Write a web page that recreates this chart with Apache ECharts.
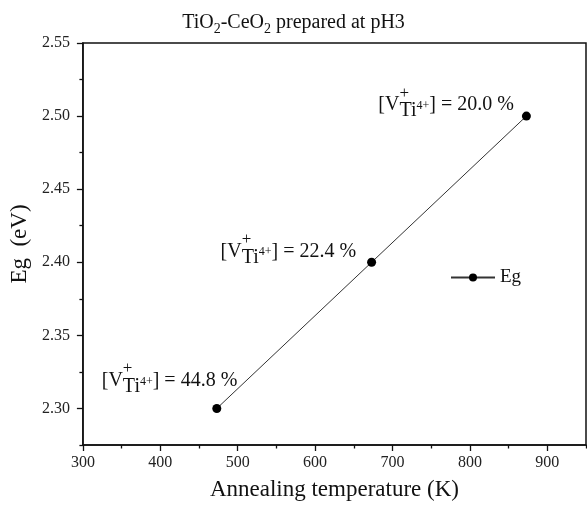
<!DOCTYPE html>
<html>
<head>
<meta charset="utf-8">
<script src="https://cdn.jsdelivr.net/npm/echarts@6/dist/echarts.min.js"></script>
<style>
html, body { margin: 0; padding: 0; background: #fff; }
#chart { width: 587px; height: 506px; }
</style>
</head>
<body>
<div id="chart"></div>
<script>
// 数据
var temps = [473, 673, 873];          // 退火温度 (K)
var eg = [2.30, 2.40, 2.50];          // 带隙 Eg (eV)
var vacancy = ['44.8', '22.4', '20.0']; // [V+ Ti4+] 百分比
var xMajor = [300, 400, 500, 600, 700, 800, 900];
var xMinor = [350, 450, 550, 650, 750, 850, 950];
var yMajor = [2.30, 2.35, 2.40, 2.45, 2.50, 2.55];
var yMinor = [2.275, 2.325, 2.375, 2.425, 2.475, 2.525];

var labelOffsets = [[25, -28], [-11, -11], [-8, -11]]; // 标注位置
var serif = 'Liberation Serif';

var myChart = echarts.init(document.getElementById('chart'));

var points = [];
for (var i = 0; i < temps.length; i++) {
    points.push({
        value: [temps[i], eg[i]],
        label: { offset: labelOffsets[i] }
    });
}

function baseAxis(min, max, major, minor, isMinor) {
    return {
        type: 'value',
        min: min,
        max: max,
        axisLine: { show: !isMinor, lineStyle: { color: '#111', width: 1.5 } },
        axisTick: {
            show: true,
            customValues: isMinor ? minor : major,
            length: isMinor ? 3.5 : 6,
            lineStyle: { color: '#111', width: 1.3 }
        },
        axisLabel: {
            show: !isMinor,
            customValues: major,
            fontFamily: serif,
            fontSize: 16,
            color: '#222'
        },
        splitLine: { show: false }
    };
}

var x0 = baseAxis(300, 950, xMajor, xMinor, false);
x0.position = 'bottom';
x0.axisLabel.margin = 10;
x0.name = 'Annealing temperature (K)';
x0.nameLocation = 'middle';
x0.nameGap = 33;
x0.nameTextStyle = { fontFamily: serif, fontSize: 23, color: '#111' };
var x1 = baseAxis(300, 950, xMajor, xMinor, true);
x1.position = 'bottom';

var y0 = baseAxis(2.275, 2.55, yMajor, yMinor, false);
y0.position = 'left';
y0.axisLabel.margin = 13;
y0.axisLabel.formatter = function (v) { return v.toFixed(2); };
y0.name = 'Eg  (eV)';
y0.nameLocation = 'middle';
y0.nameGap = 51;
y0.nameTextStyle = { fontFamily: serif, fontSize: 23, color: '#111' };
var y1 = baseAxis(2.275, 2.55, yMajor, yMinor, true);
y1.position = 'left';

myChart.setOption({
    backgroundColor: '#fff',
    animation: false,
    title: {
        text: '{t|TiO}{s|2}{t|-CeO}{s|2}{t| prepared at pH3}',
        left: 'center',
        top: 5,
        textStyle: {
            fontWeight: 'normal',
            rich: {
                t: { fontFamily: serif, fontSize: 20, fontWeight: 'normal', color: '#111' },
                s: { fontFamily: serif, fontSize: 14, fontWeight: 'normal', color: '#111', padding: [12, 0, 0, 0] }
            }
        }
    },
    grid: {
        left: 82,
        right: 1,
        top: 43,
        bottom: 57,
        show: true,
        borderColor: '#111',
        borderWidth: 1.5
    },
    legend: {
        data: ['Eg'],
        left: 445,
        top: 263,
        itemWidth: 44,
        itemHeight: 10,
        itemGap: 3,
        textStyle: { fontFamily: serif, fontSize: 19, color: '#111' }
    },
    xAxis: [x0, x1],
    yAxis: [y0, y1],
    series: [{
        name: 'Eg',
        type: 'line',
        data: points,
        symbol: 'circle',
        symbolSize: 9,
        itemStyle: { color: '#000' },
        lineStyle: { color: '#333', width: 1 },
        label: {
            show: true,
            position: 'left',
            distance: 0,
            formatter: function (p) {
                return '{a|[V}{p|+}{t|Ti}{s|4+}{a|] = ' + vacancy[p.dataIndex] + ' %}';
            },
            rich: {
                a: { fontFamily: serif, fontSize: 20, color: '#111', align: 'left' },
                p: { fontFamily: serif, fontSize: 17, color: '#111', align: 'left', width: 0, padding: [0, 0, 24, 0] },
                t: { fontFamily: serif, fontSize: 20, color: '#111', align: 'left', padding: [12, 0, 0, 0] },
                s: { fontFamily: serif, fontSize: 12, color: '#111', align: 'left', padding: [2, 0, 0, 0] }
            }
        }
    }]
});
</script>
</body>
</html>
